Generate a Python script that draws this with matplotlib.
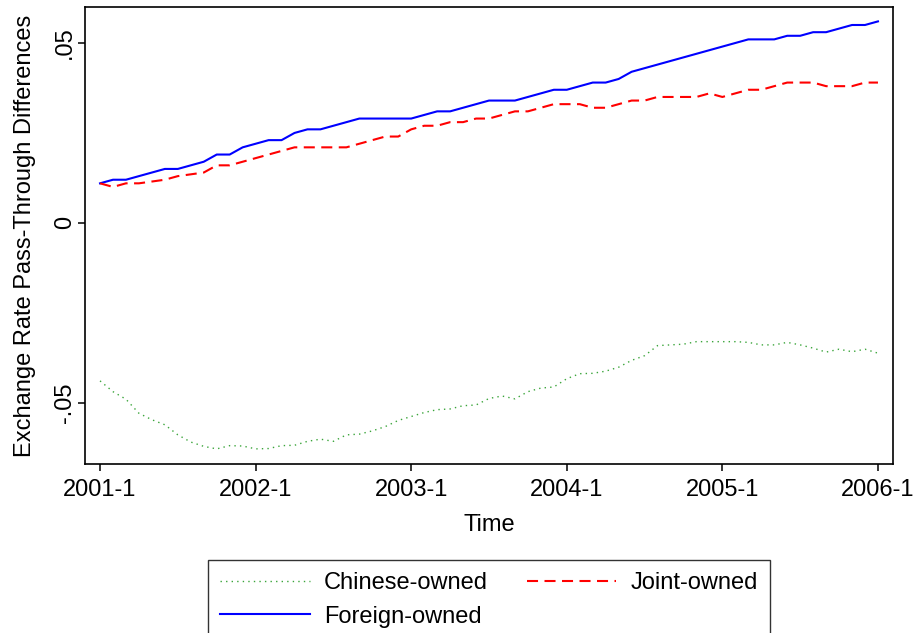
import matplotlib
matplotlib.use('Agg')
import matplotlib.pyplot as plt
import numpy as np

plt.rcParams['font.family'] = ['Liberation Sans', 'DejaVu Sans']

# monthly observations, 2001-1 .. 2006-1
months = np.arange(61)

chinese = [-0.0439, -0.0469, -0.0490, -0.0529, -0.0547, -0.0561, -0.0589, -0.0609,
           -0.0621, -0.0628, -0.0619, -0.0620, -0.0628, -0.0627, -0.0619, -0.0618,
           -0.0607, -0.0601, -0.0607, -0.0589, -0.0587, -0.0578, -0.0566, -0.0549,
           -0.0538, -0.0527, -0.0519, -0.0517, -0.0508, -0.0506, -0.0488, -0.0481,
           -0.0489, -0.0469, -0.0459, -0.0456, -0.0433, -0.0419, -0.0418, -0.0412,
           -0.0401, -0.0382, -0.0369, -0.0341, -0.0339, -0.0337, -0.0330, -0.0330,
           -0.0330, -0.0330, -0.0332, -0.0339, -0.0339, -0.0332, -0.0339, -0.0348,
           -0.0359, -0.0351, -0.0358, -0.0351, -0.0362]

joint = [0.011, 0.010, 0.011, 0.011, 0.0115, 0.012, 0.013, 0.0135, 0.014, 0.016,
         0.016, 0.017, 0.018, 0.019, 0.020, 0.021, 0.021, 0.021, 0.021, 0.021,
         0.022, 0.023, 0.024, 0.024, 0.026, 0.027, 0.027, 0.028, 0.028, 0.029,
         0.029, 0.030, 0.031, 0.031, 0.032, 0.033, 0.033, 0.033, 0.032, 0.032,
         0.033, 0.034, 0.034, 0.035, 0.035, 0.035, 0.035, 0.036, 0.035, 0.036,
         0.037, 0.037, 0.038, 0.039, 0.039, 0.039, 0.038, 0.038, 0.038, 0.039,
         0.039]

foreign = [0.011, 0.012, 0.012, 0.013, 0.014, 0.015, 0.015, 0.016, 0.017, 0.019,
           0.019, 0.021, 0.022, 0.023, 0.023, 0.025, 0.026, 0.026, 0.027, 0.028,
           0.029, 0.029, 0.029, 0.029, 0.029, 0.030, 0.031, 0.031, 0.032, 0.033,
           0.034, 0.034, 0.034, 0.035, 0.036, 0.037, 0.037, 0.038, 0.039, 0.039,
           0.040, 0.042, 0.043, 0.044, 0.045, 0.046, 0.047, 0.048, 0.049, 0.050,
           0.051, 0.051, 0.051, 0.052, 0.052, 0.053, 0.053, 0.054, 0.055, 0.055,
           0.056]

xticks = [0, 12, 24, 36, 48, 60]
xticklabels = ['2001-1', '2002-1', '2003-1', '2004-1', '2005-1', '2006-1']
yticks = [-0.05, 0, 0.05]
yticklabels = ['-.05', '0', '.05']

fs = 17

fig = plt.figure(figsize=(9.15, 6.33), dpi=100)
ax = fig.add_axes([85 / 915, 1 - 464 / 633, 808 / 915, 457 / 633])

ax.plot(months, chinese, color='#3aa53a', lw=1.0, linestyle=(0, (1, 3)), label='Chinese-owned')
ax.plot(months, foreign, color='#0000ff', lw=1.5, label='Foreign-owned')
ax.plot(months, joint, color='#ff0000', lw=1.5, linestyle=(0, (5.3, 3.1)), label='Joint-owned')

ax.set_xlim(-1.16, 61.16)
ax.set_ylim(-0.067, 0.06)
ax.set_xticks(xticks)
ax.set_xticklabels(xticklabels)
ax.set_yticks(yticks)
ax.set_yticklabels(yticklabels, rotation=90, va='center')

for s in ax.spines.values():
    s.set_linewidth(1.2)
    s.set_color('black')
ax.tick_params(axis='both', direction='out', length=5, width=1.1, labelsize=fs)
ax.tick_params(axis='x', pad=6)
ax.tick_params(axis='y', pad=1.5)

ax.set_xlabel('Time', fontsize=fs, labelpad=9)
ax.set_ylabel('Exchange Rate Pass-Through Differences', fontsize=fs, labelpad=13)

fig.legend(loc='upper left', bbox_to_anchor=(208 / 915, 1 - 560 / 633), ncol=2,
           fontsize=fs, frameon=True, fancybox=False, edgecolor='black',
           handlelength=3.8, columnspacing=1.65, labelspacing=0.5, borderpad=0.5,
           handletextpad=0.6, borderaxespad=0)
leg = fig.legends[0]
leg.get_frame().set_linewidth(1.0)

fig.savefig('out.png', dpi=100)
